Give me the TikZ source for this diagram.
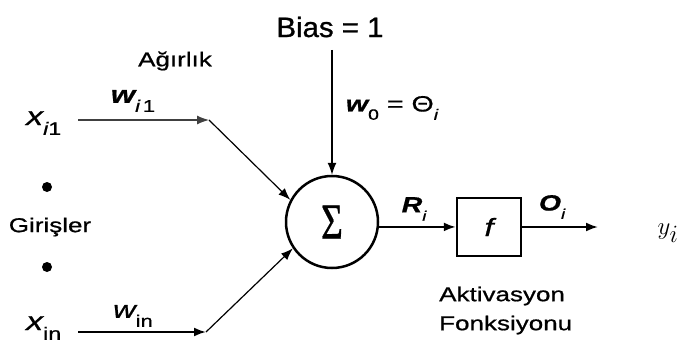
\documentclass[tikz,border=0pt]{standalone}
\usepackage{fontspec}
\setmainfont[FakeStretch=1.3,FakeBold=0.8]{Liberation Sans}
\newfontfamily\biasfont[FakeStretch=1.05,FakeBold=1]{Liberation Sans}
\newfontfamily\sigmafont[FakeBold=0.8]{Liberation Serif}
\usetikzlibrary{arrows.meta}
\newcommand{\mysub}[2]{\raisebox{-0.38em}{\fontsize{#1}{#1}\selectfont #2}}
\newcommand{\fs}[1]{\fontsize{#1}{#1}\selectfont}
\begin{document}
\begin{tikzpicture}[x=1pt,y=-1pt,
  lbl/.style={inner sep=0pt, font=\fs{20}},
  tipa/.style={-{Latex[length=12pt,width=9pt]}},
  thinline/.style={tipa, line width=1.2pt},
  thickline/.style={tipa, line width=2pt},
  sumnode/.style={draw, circle, line width=2.5pt, minimum size=92pt, inner sep=0pt},
  boxnode/.style={draw, line width=2.5pt, minimum width=64pt, minimum height=58pt, inner sep=0pt},
  dotnode/.style={circle, fill, minimum size=10pt, inner sep=0pt}
]
\useasboundingbox (0,0) rectangle (681,345);

% nodes
\node[sumnode] (sum) at (332,222) {\scalebox{0.75}[1]{\sigmafont\fs{50}Σ}};
\node[boxnode] (box) at (489,227) {\fs{25}\itshape f};
\node[lbl, font=\biasfont\fs{28}] (bias) at (330,27) {Bias = 1};
\node[lbl] (agirlik) at (175,61) {Ağırlık};
\node[lbl] (girisler) at (50,227) {Girişler};
\node[dotnode] (d1) at (47,187) {};
\node[dotnode] (d2) at (47,267) {};
\node[lbl, anchor=base west] (xi1) at (26,125) {\fs{26}\itshape x\mysub{18}{i\upshape 1}};
\node[lbl, anchor=base west] (xin) at (26,330) {\fs{26}\itshape x\mysub{18}{\upshape in}};
\node[lbl] (wi1) at (133,101) {\fs{24}\bfseries\itshape w\mysub{17}{\mdseries i\,\upshape 1}};
\node[lbl] (win) at (133,316) {\fs{24}\itshape w\mysub{17}{\upshape in}};
\node[lbl] (w0) at (392,108) {\fs{22}{\bfseries\itshape w}\mysub{15}{0} = Θ\mysub{15}{\itshape i}};
\node[lbl] (ri) at (414,209) {\fs{22}\bfseries\itshape R\mysub{14}{\mdseries i}};
\node[lbl] (oi) at (552,207) {\fs{22}\bfseries\itshape O\mysub{14}{\mdseries i}};
\node[lbl] (yi) at (668,233) {\fs{34}$y_i$};
\node[lbl, anchor=west] (akt) at (439,296) {Aktivasyon};
\node[lbl, anchor=west] (fonk) at (439,325) {Fonksiyonu};

% coordinates for connector ends
\coordinate (s1) at (78,120);
\coordinate (c1) at (209,120);
\coordinate (s2) at (78,332);
\coordinate (c2) at (206,332);
\coordinate (b0) at (332,50);
\coordinate (out) at (598,227);

% connectors
\draw[thinline, black!75] (s1) -- (c1);
\draw[thinline] (c1) -- (sum.152);
\draw[thickline] (s2) -- (c2);
\draw[thinline] (c2) -- (sum.214);
\draw[thinline] (b0) -- (sum.north);
\draw[thickline] (sum.-6) -- (sum.-6 -| box.west);
\draw[thickline] (box.east) -- (out);
\end{tikzpicture}
\end{document}
